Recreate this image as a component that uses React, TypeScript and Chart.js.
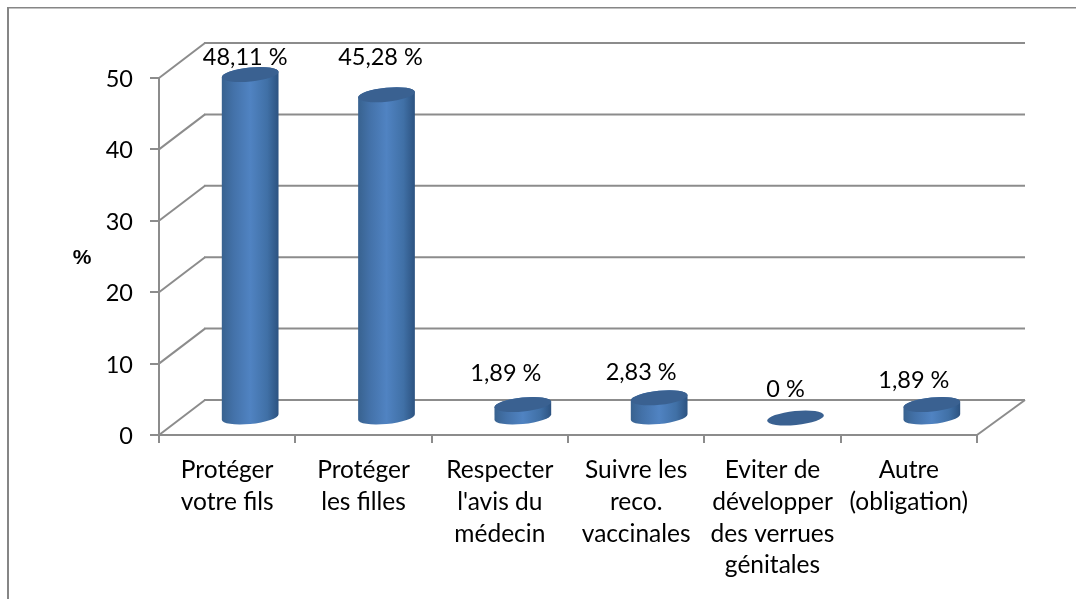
import React, { useEffect, useRef } from "react";
import { Chart, registerables } from "chart.js";

Chart.register(...registerables);

const categories = [
  ["Protéger", "votre fils"],
  ["Protéger", "les filles"],
  ["Respecter", "l'avis du", "médecin"],
  ["Suivre les", "reco.", "vaccinales"],
  ["Eviter de", "développer", "des verrues", "génitales"],
  ["Autre", "(obligation)"],
];
const values = [48.11, 45.28, 1.89, 2.83, 0, 1.89];
const valueLabels = ["48,11 %", "45,28 %", "1,89 %", "2,83 %", "0 %", "1,89 %"];
const yTicks = [0, 10, 20, 30, 40, 50];

// label anchor relative to the cylinder's base centre (layout, not data)
const labelDx = [-5, -6, -17, -18, -10, -18];
const labelY = [57, 57, 373, 372, 389, 380];

const GRID = "#8c8c8c";
const FONT = "Lato, 'Open Sans', sans-serif";
const FONT_SIZE = 23.5;
const CAT_FONT_SIZE = 24.5;
const DEPTH_X = 46;
const DEPTH_Y = 35;
const BAR_DX = 23;
const BAR_DY = 17;
const ELL_B = 7;
const ELL_ROT = -0.1;

const line = (ctx: CanvasRenderingContext2D, x1: number, y1: number, x2: number, y2: number) => {
  ctx.beginPath();
  ctx.moveTo(x1, y1);
  ctx.lineTo(x2, y2);
  ctx.stroke();
};

const scene = {
  id: "scene",
  beforeDatasetsDraw(chart: any) {
    const { ctx, chartArea: area, scales } = chart;
    const y = scales.y;
    ctx.save();
    // outer frame
    ctx.strokeStyle = "#868686";
    ctx.lineWidth = 2;
    line(ctx, 8, 599, 8, 8);
    ctx.lineWidth = 1.5;
    line(ctx, 7, 7.75, 1076, 7.75);
    // walls
    ctx.strokeStyle = GRID;
    ctx.lineWidth = 2;
    ctx.lineCap = "butt";
    for (const t of yTicks) {
      const py = y.getPixelForValue(t);
      line(ctx, area.left, py, area.left + DEPTH_X, py - DEPTH_Y);
      line(ctx, area.left + DEPTH_X - 1, py - DEPTH_Y, area.right + DEPTH_X + 2, py - DEPTH_Y);
    }
    line(ctx, area.right, area.bottom, area.right + DEPTH_X + 2, area.bottom - DEPTH_Y);
    // % title
    ctx.fillStyle = "#000";
    ctx.font = `bold 21px 'Liberation Sans', ${FONT}`;
    ctx.textAlign = "center";
    ctx.textBaseline = "middle";
    ctx.fillText("%", 82, 258);
    ctx.restore();
  },
  afterDatasetsDraw(chart: any) {
    const { ctx } = chart;
    const meta = chart.getDatasetMeta(0);
    ctx.save();
    meta.data.forEach((bar: any, i: number) => {
      const cx = bar.x + BAR_DX;
      const top = bar.y - BAR_DY;
      const base = bar.base - BAR_DY;
      const a = bar.width / 2;
      const t0 = Math.atan(-(ELL_B / a) * Math.tan(ELL_ROT));
      if (values[i] > 0) {
        const g = ctx.createLinearGradient(cx - a, 0, cx + a, 0);
        g.addColorStop(0, "#38628f");
        g.addColorStop(0.2, "#4371a8");
        g.addColorStop(0.5, "#5083c2");
        g.addColorStop(0.8, "#4070a6");
        g.addColorStop(1, "#2c5280");
        ctx.fillStyle = g;
        ctx.beginPath();
        ctx.ellipse(cx, base, a, ELL_B, ELL_ROT, t0, t0 + Math.PI, false);
        ctx.ellipse(cx, top, a, ELL_B, ELL_ROT, t0 + Math.PI, t0 + 2 * Math.PI, false);
        ctx.closePath();
        ctx.fill();
      }
      ctx.fillStyle = "#3a6191";
      ctx.beginPath();
      ctx.ellipse(cx, top, a, ELL_B, ELL_ROT, 0, 2 * Math.PI);
      ctx.fill();
      // value label
      ctx.fillStyle = "#000";
      ctx.font = `${FONT_SIZE}px ${FONT}`;
      ctx.textAlign = "center";
      ctx.textBaseline = "middle";
      ctx.fillText(valueLabels[i], cx + labelDx[i], labelY[i]);
    });
    ctx.restore();
  },
};

export default function App() {
  const ref = useRef<HTMLCanvasElement>(null);
  useEffect(() => {
    const chart = new Chart(ref.current!, {
      type: "bar",
      data: {
        labels: categories,
        datasets: [
          {
            data: values,
            backgroundColor: "rgba(0,0,0,0)",
            borderWidth: 0,
            barPercentage: 0.418,
            categoryPercentage: 1,
          },
        ],
      },
      options: {
        animation: false,
        responsive: false,
        maintainAspectRatio: false,
        layout: { padding: { left: 0, right: 99, top: 78, bottom: 0 } },
        plugins: { legend: { display: false }, tooltip: { enabled: false }, title: { display: false } },
        scales: {
          x: {
            afterFit: (s: any) => {
              s.height = 164;
            },
            grid: { drawOnChartArea: false, color: GRID, lineWidth: 2, tickLength: 8 },
            border: { color: GRID, width: 2 },
            ticks: {
              color: "#000",
              font: { family: FONT, size: CAT_FONT_SIZE, lineHeight: 1.3 },
              maxRotation: 0,
              minRotation: 0,
              autoSkip: false,
              padding: 11,
            },
          },
          y: {
            min: 0,
            max: 50,
            afterFit: (s: any) => {
              s.width = 159;
            },
            grid: { drawOnChartArea: false, color: GRID, lineWidth: 2, tickLength: 9 },
            border: { color: GRID, width: 2 },
            ticks: {
              color: "#000",
              font: { family: FONT, size: FONT_SIZE },
              stepSize: 10,
              padding: 17,
              labelOffset: 1.5,
            },
          },
        },
      },
      plugins: [scene],
    } as any);
    return () => chart.destroy();
  }, []);
  return (
    <div style={{ position: "fixed", left: 0, top: 0, width: 1076, height: 599, background: "#fff" }}>
      <canvas ref={ref} width={1076} height={599} style={{ display: "block" }} />
    </div>
  );
}
